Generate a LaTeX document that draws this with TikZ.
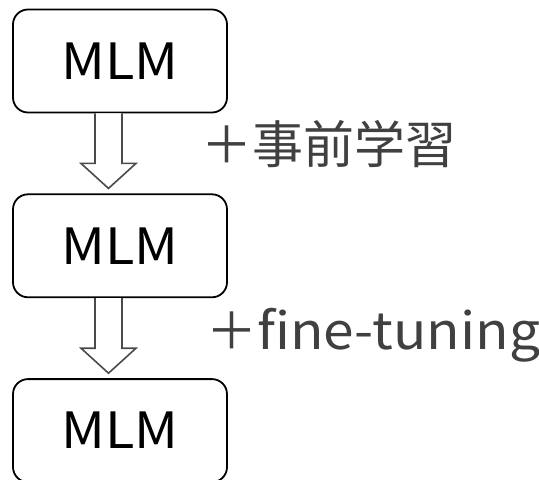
\documentclass[tikz,border=0pt]{standalone}
\usepackage{fontspec}
\setmainfont{Noto Sans CJK JP}
\newfontfamily\widelatin[FakeStretch=1.08]{Noto Sans CJK JP}
\usepackage{tikz}
\usetikzlibrary{calc,positioning}
\definecolor{labelgray}{HTML}{404040}
\definecolor{arrowgray}{HTML}{4A4A4A}
\tikzstyle{mlmbox}=[draw=black, line width=1.8pt, rounded corners=15pt, minimum width=214pt, minimum height=103pt, inner sep=0pt, font=\widelatin\fontsize{50}{60}\selectfont]
\tikzstyle{hollowarrow}=[draw=arrowgray, line width=1.6pt, fill=white, line join=miter]
\tikzstyle{steplabel}=[anchor=west, inner sep=0pt, text=labelgray, font=\fontsize{51}{60}\selectfont]
\newcommand{\blockArrow}[2]{
	\draw[hollowarrow] ($(#1.south)+(-25,0)$) -- ($(#2.north)+(-25,-30)$) -- ($(#2.north)+(-39,-30)$)
		-- ($(#2.north)+(-11.5,-5)$) -- ($(#2.north)+(16,-30)$) -- ($(#2.north)+(2,-30)$) -- ($(#1.south)+(2,0)$);
}

\begin{document}
\begin{tikzpicture}[x=1pt,y=-1pt]
	\useasboundingbox (0,0) rectangle (539,480);
	\node[mlmbox] (mlmA) at (120,61) {MLM};
	\node[mlmbox, below=80pt of mlmA] (mlmB) {MLM};
	\node[mlmbox, below=80pt of mlmB] (mlmC) {MLM};
	\blockArrow{mlmA}{mlmB}
	\blockArrow{mlmB}{mlmC}
	\node[steplabel] (pretrain) at (201,144) {＋事前学習};
	\node[steplabel] (finetune) at (206,335) {＋{\widelatin fine-tuning}};
\end{tikzpicture}
\end{document}
